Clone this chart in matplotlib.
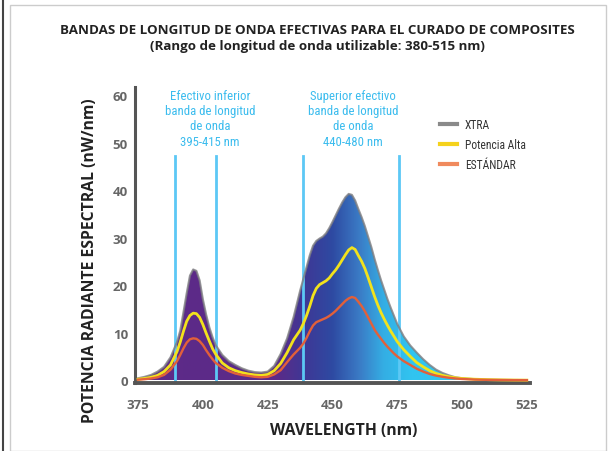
import numpy as np
import matplotlib
matplotlib.use("Agg")
import matplotlib.pyplot as plt
from matplotlib import font_manager as fm
from matplotlib.colors import LinearSegmentedColormap
from matplotlib.lines import Line2D
from matplotlib.patches import Rectangle

# ---------------- data ----------------
wavelength = [375, 377.5, 380, 382.5, 385, 387.5, 390, 391.25, 392.5, 393.75,
              395, 396.25, 397.5, 398.75, 400, 401.25, 402.5, 403.75, 405, 407.5,
              410, 412.5, 415, 417.5, 420, 422.5, 425, 427.5, 430, 432.5,
              435, 437.5, 438.75, 440, 441.25, 442.5, 443.75, 445, 446.25, 447.5,
              448.75, 450, 451.25, 452.5, 453.75, 455, 456.25, 457.5, 458.75, 460,
              461.25, 462.5, 463.75, 465, 466.25, 467.5, 468.75, 470, 471.25, 472.5,
              473.75, 475, 477.5, 480, 482.5, 485, 487.5, 490, 492.5, 495,
              497.5, 500, 505, 510, 515, 520, 525]

xtra = [0.4, 0.7, 1.1, 1.8, 2.8, 4.8, 8.0, 10.4, 14.3, 18.3,
        22.0, 23.3, 23.0, 21.0, 17.0, 13.8, 11.1, 9.0, 7.3, 5.3,
        4.0, 3.2, 2.5, 2.0, 1.7, 1.6, 1.8, 3.0, 5.5, 8.8,
        13.3, 18.8, 21.3, 23.8, 26.3, 28.3, 29.3, 29.8, 30.2, 30.9,
        32.0, 33.3, 34.7, 36.1, 37.4, 38.5, 39.2, 39.0, 37.8, 36.0,
        34.3, 32.4, 30.2, 28.0, 25.5, 23.2, 21.0, 19.0, 17.0, 15.2,
        13.5, 11.8, 9.2, 7.3, 5.8, 4.4, 3.2, 2.2, 1.5, 1.0,
        0.6, 0.4, 0.2, 0.1, 0.05, 0.02, 0.0]

potencia_alta = [0.2, 0.35, 0.6, 1.0, 1.8, 3.2, 6.0, 8.0, 10.3, 12.4,
                 13.6, 14.1, 14.0, 13.2, 11.7, 9.9, 8.2, 6.6, 5.4, 3.6,
                 2.6, 2.0, 1.6, 1.3, 1.1, 1.0, 1.2, 2.0, 3.5, 5.8,
                 8.5, 10.5, 11.9, 13.6, 15.6, 17.8, 19.3, 20.1, 20.5, 20.9,
                 21.5, 22.4, 23.2, 24.2, 25.3, 26.4, 27.4, 27.9, 27.5, 26.2,
                 25.0, 23.5, 21.6, 19.6, 17.6, 15.8, 14.2, 12.8, 11.5, 10.3,
                 9.2, 8.1, 6.4, 5.0, 3.7, 2.8, 2.0, 1.4, 1.0, 0.7,
                 0.5, 0.35, 0.2, 0.1, 0.05, 0.02, 0.0]

estandar = [0.1, 0.2, 0.35, 0.6, 1.1, 2.2, 4.0, 5.3, 6.7, 7.9,
            8.6, 8.8, 8.7, 8.2, 7.4, 6.3, 5.3, 4.4, 3.6, 2.6,
            1.9, 1.4, 1.1, 0.9, 0.7, 0.6, 0.7, 1.2, 2.1, 3.8,
            5.4, 6.8, 7.7, 8.9, 10.3, 11.5, 12.2, 12.5, 12.8, 13.1,
            13.5, 14.0, 14.6, 15.3, 16.0, 16.7, 17.2, 17.5, 17.3, 16.5,
            15.6, 14.5, 13.2, 11.9, 10.6, 9.6, 8.7, 7.8, 7.0, 6.3,
            5.6, 5.0, 4.0, 3.2, 2.4, 1.8, 1.3, 0.95, 0.7, 0.5,
            0.35, 0.25, 0.12, 0.06, 0.03, 0.01, 0.0]

band_edges = [389.3, 405.0, 438.7, 475.6]
xticks = [375, 400, 425, 450, 475, 500, 525]
yticks = [0, 10, 20, 30, 40, 50, 60]
series_labels = ["XTRA", "Potencia Alta", "ESTÁNDAR"]

title = ("BANDAS DE LONGITUD DE ONDA EFECTIVAS PARA EL CURADO DE COMPOSITES\n"
         "(Rango de longitud de onda utilizable: 380-515 nm)")
lower_band_text = "Efectivo inferior\nbanda de longitud\nde onda\n395-415 nm"
upper_band_text = "Superior efectivo\nbanda de longitud\nde onda\n440-480 nm"
xlabel = "WAVELENGTH (nm)"
ylabel = "POTENCIA RADIANTE ESPECTRAL (nW/nm)"


def pick_family(cands, default):
    for c in cands:
        try:
            fm.findfont(fm.FontProperties(family=c), fallback_to_default=False)
            return c
        except Exception:
            pass
    return default


cond_family = pick_family(['Liberation Sans Narrow', 'Roboto Condensed',
                           'Open Sans Condensed', 'Noto Sans Condensed',
                           'DejaVu Sans Condensed'], 'DejaVu Sans')
cond_props = dict(family=[cond_family, 'DejaVu Sans'], stretch='condensed')

# ---------------- figure ----------------
plt.rcParams['font.family'] = ['Open Sans', 'DejaVu Sans']
fig = plt.figure(figsize=(6.10, 4.52), dpi=100)
ax = fig.add_axes([0.2213, 0.1515, 0.6475, 0.6538])

x = np.array(wavelength)
X_LO, X_HI = 373.8, 526.2
Y_LO, Y_HI = -0.5, 61.7
ax.set_xlim(X_LO, X_HI)
ax.set_ylim(Y_LO, Y_HI)

# gradient fill under XTRA
cmap = LinearSegmentedColormap.from_list("spec", [
    (0.00, "#5e2a88"), (0.36, "#5b2b88"), (0.43, "#3e3896"),
    (0.50, "#2e4aa2"), (0.57, "#3b7cc6"), (0.63, "#34aee4"),
    (0.70, "#31c4f0"), (1.00, "#31c4f0")])
grad = np.linspace(0, 1, 512).reshape(1, -1)
im = ax.imshow(grad, extent=[X_LO, X_HI, 0, Y_HI], aspect='auto',
               cmap=cmap, origin='lower', zorder=1, interpolation='bilinear')
poly = ax.fill_between(x, 0, xtra, facecolor='none', edgecolor='none')
clip = poly.get_paths()[0]
im.set_clip_path(clip, transform=ax.transData)

ax.plot(x, xtra, color="#7d7d80", lw=1.5, alpha=0.8, zorder=3,
        solid_joinstyle='round')

# band lines
for b in band_edges:
    ax.plot([b, b], [0, 47.2], color="#5cc8f5", lw=2.0, zorder=2.5)

ax.plot(x, potencia_alta, color="#f2e21c", lw=2.0, zorder=4,
        solid_joinstyle='round')
ax.plot(x, estandar, color="#e2603a", lw=1.7, zorder=4,
        solid_joinstyle='round')

# spines / ticks
for s in ['top', 'right']:
    ax.spines[s].set_visible(False)
ax.spines['left'].set_color("#555555")
ax.spines['left'].set_linewidth(2.2)
ax.spines['bottom'].set_color("#555555")
ax.spines['bottom'].set_linewidth(2.8)
ax.set_xticks(xticks)
ax.set_yticks(yticks)
ax.tick_params(length=0, colors="#666666", labelsize=9.5)
ax.tick_params(axis='x', pad=11)
ax.tick_params(axis='y', pad=5)
for lab in ax.get_xticklabels() + ax.get_yticklabels():
    lab.set_fontweight('bold')

fig.text(344 / 610, 1 - 431 / 452, xlabel, ha='center', va='center',
         fontsize=11.3, fontweight='bold', color="#222222")
fig.text(90 / 610, 1 - 261 / 452, ylabel, ha='center', va='center',
         rotation=90, fontsize=11.3, fontweight='bold', color="#222222")

fig.text(0.521, 0.946, title, ha='center', va='top', fontsize=9.6,
         fontweight='bold', color="#222222", linespacing=1.3)

ax.text(0.19, 0.993, lower_band_text, transform=ax.transAxes, ha='center',
        va='top', fontsize=9.2, color="#3bbcee", linespacing=1.22,
        **cond_props)
ax.text(0.552, 0.993, upper_band_text, transform=ax.transAxes, ha='center',
        va='top', fontsize=9.2, color="#3bbcee", linespacing=1.22,
        **cond_props)

handles = [Line2D([], [], color="#8a8a8a", lw=3),
           Line2D([], [], color="#f5d21c", lw=3),
           Line2D([], [], color="#f08a5d", lw=3)]
leg = ax.legend(handles, series_labels, loc='upper left',
                bbox_to_anchor=(0.745, 0.93), frameon=False,
                handlelength=1.5, handletextpad=0.7, labelspacing=0.6,
                prop=fm.FontProperties(size=8.3, **cond_props))
for t in leg.get_texts():
    t.set_color("#333333")

# page frame
fig.patches.append(Rectangle((10 / 610, 0), 596 / 610, 1 - 6 / 452,
                             transform=fig.transFigure, fill=False,
                             edgecolor="#cccccc", lw=1.0))
fig.lines.append(Line2D([3 / 610, 3 / 610], [0, 1], transform=fig.transFigure,
                        color="#444444", lw=1.5))

fig.savefig("out.png", dpi=100)
